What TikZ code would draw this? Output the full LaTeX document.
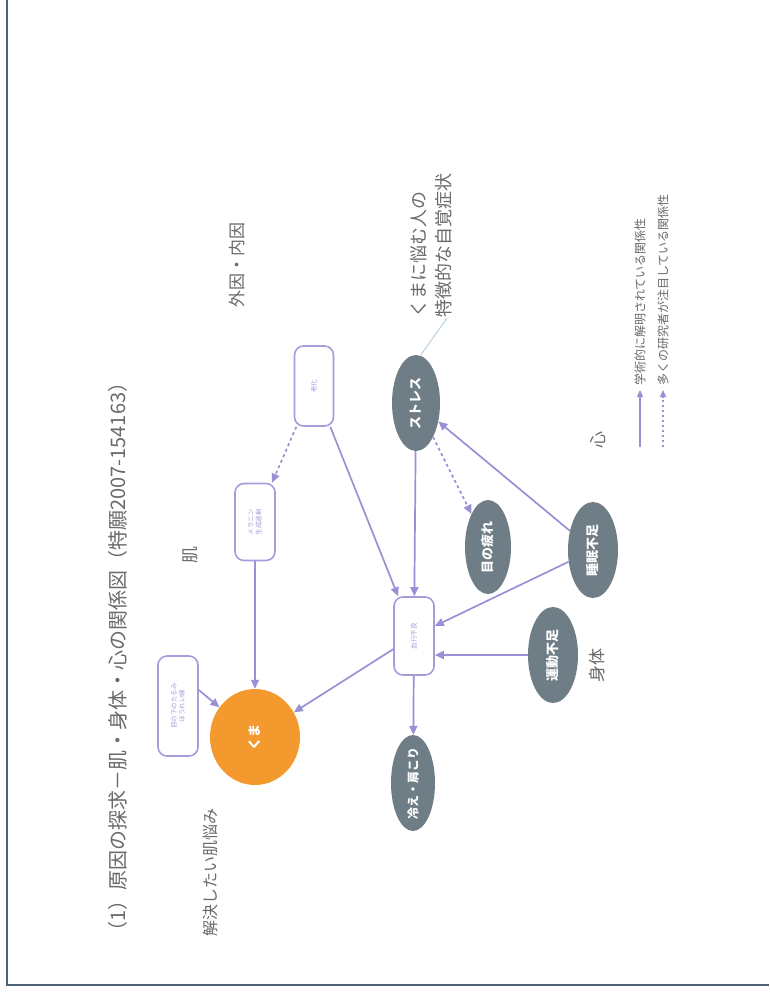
\documentclass[tikz,border=0pt]{standalone}
\usepackage{fontspec}
\setmainfont{Noto Sans CJK JP}
\usetikzlibrary{arrows.meta,shapes.geometric,calc}
\definecolor{lav}{HTML}{9A90D6}
\definecolor{boxc}{HTML}{A59CDC}
\definecolor{slate}{HTML}{6F7D86}
\definecolor{orng}{HTML}{F3992E}
\definecolor{txt}{HTML}{6A6A6A}
\definecolor{framec}{HTML}{4F6275}
\definecolor{notec}{HTML}{A9CBE0}
\begin{document}
\begin{tikzpicture}[x=1pt,y=-1pt,
 lbl/.style={rotate=90, text=txt, inner sep=0pt},
 pbox/.style={rotate=90, draw=boxc, line width=1.6pt, rounded corners=9pt, fill=white, text=boxc, font=\fontsize{6.5}{8}\selectfont, align=center, inner sep=1pt},
 dark/.style={rotate=90, ellipse, fill=slate, text=white, font=\bfseries\fontsize{13}{14}\selectfont, inner sep=0pt},
 arr/.style={draw=lav, line width=1.7pt, -{Triangle[length=9pt,width=8pt]}},
 darr/.style={arr, dash pattern=on 3pt off 3pt},
 legarr/.style={draw=lav, line width=1.3pt, -{Triangle[length=7pt,width=6pt]}, shorten >=4pt},
]
\useasboundingbox (0,0) rectangle (769,992);
\fill[white] (0,0) rectangle (769,992);
\draw[framec, line width=1.6pt] (7,0) -- (7,985) -- (769,985);

% texts
\node[lbl, anchor=west, font=\fontsize{20}{21}\selectfont] (title) at (118,942) {（1）原因の探求－肌・身体・心の関係図（特願2007-154163）};
\node[lbl, anchor=west, font=\fontsize{16}{17}\selectfont] (goal) at (210,937) {解決したい肌悩み};
\node[lbl, font=\fontsize{17}{18}\selectfont] (hada) at (190,555) {肌};
\node[lbl, font=\fontsize{17}{18}\selectfont] (gaiin) at (237,265) {外因・内因};
\node[lbl, font=\fontsize{17}{18}\selectfont] (kokoro) at (598,440) {心};
\node[lbl, font=\fontsize{17}{18}\selectfont] (shintai) at (597,665) {身体};
\node[lbl, anchor=west, align=left, font=\fontsize{18}{25}\selectfont] (note) at (431,318) {くまに悩む人の\\特徴的な自覚症状};
\node[lbl, anchor=west, font=\fontsize{12}{13}\selectfont] (leg1) at (640,386) {学術的に解明されている関係性};
\node[lbl, anchor=west, font=\fontsize{12}{13}\selectfont] (leg2) at (663,386) {多くの研究者が注目している関係性};
\coordinate (ls1) at (640,447);
\coordinate (ls2) at (663,447);

% boxes
\node[pbox, minimum width=80pt, minimum height=39pt] (roka) at (314,386) {老化};
\node[pbox, minimum width=77pt, minimum height=40pt] (mela) at (255,522) {メラニン\\生成過剰};
\node[pbox, minimum width=100pt, minimum height=40pt] (taru) at (178,706) {目の下のたるみ\\ほうれい線};
\node[pbox, minimum width=78pt, minimum height=40pt] (ketsu) at (414,636) {血行不良};

% ellipses
\node[rotate=90, ellipse, fill=orng, text=white, inner sep=0pt, minimum width=96pt, minimum height=90pt, font=\bfseries\fontsize{13}{14}\selectfont] (kuma) at (255,737) {\makebox[0pt]{くま}};
\node[dark, minimum width=96pt, minimum height=44pt, font=\bfseries\fontsize{12}{13}\selectfont] (hie) at (413,783) {\makebox[0pt]{冷え・肩こり}};
\node[dark, minimum width=96pt, minimum height=48pt] (stress) at (416,403) {\makebox[0pt]{ストレス}};
\node[dark, minimum width=94pt, minimum height=46pt] (tsukare) at (488,547) {\makebox[0pt]{目の疲れ}};
\node[dark, minimum width=96pt, minimum height=50pt] (suimin) at (593,550) {\makebox[0pt]{睡眠不足}};
\node[dark, minimum width=96pt, minimum height=50pt] (undo) at (553,655) {\makebox[0pt]{運動不足}};

% connectors
\draw[arr] (roka) -- (ketsu);
\draw[darr] (roka) -- (mela);
\draw[arr] (mela) -- (kuma);
\draw[arr] ([yshift=16pt]taru.south) -- (kuma);
\draw[arr] (ketsu) -- (kuma);
\draw[arr] (ketsu) -- (hie);
\draw[arr] (stress) -- (ketsu);
\draw[darr] (stress) -- (tsukare);
\draw[arr] (suimin) -- (stress);
\draw[arr] (suimin) -- (ketsu);
\draw[arr] (undo.north) -- (undo.north -| ketsu.south);
\draw[notec, line width=0.8pt] ([xshift=5pt]stress.east) -- ([xshift=16pt]note.west);

% legend
\draw[legarr] (ls1) -- (leg1.west);
\draw[legarr, dash pattern=on 2pt off 3pt] (ls2) -- (leg2.west);
\end{tikzpicture}
\end{document}
